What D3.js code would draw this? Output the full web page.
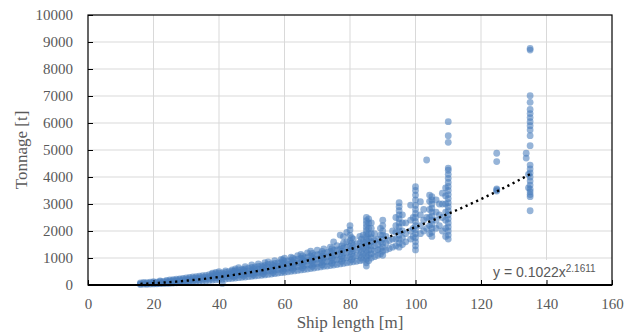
<!DOCTYPE html>
<html>
<head>
<meta charset="utf-8">
<script src="https://cdn.jsdelivr.net/npm/d3@7"></script>
<style>
  body { margin: 0; background: #fff; }
  text { font-family: "Liberation Serif", "Times New Roman", serif; }
</style>
</head>
<body>
<svg id="chart" width="624" height="333"></svg>
<script>
// axis ticks
var xTicks = [0, 20, 40, 60, 80, 100, 120, 140, 160];
var yTicks = [0, 1000, 2000, 3000, 4000, 5000, 6000, 7000, 8000, 9000, 10000];

// main band of smaller ships: [length m, tonnages t]
var bandRows = [
  [16, [20, 45, 80]], [17, [30, 60, 95]], [18, [25, 55, 90]], [19, [35, 70, 110]],
  [20, [40, 65, 90, 125]], [21, [45, 75, 110]], [22, [50, 80, 120, 150]],
  [23, [55, 90, 130]], [24, [60, 95, 135, 170]], [25, [65, 105, 145, 185]],
  [26, [70, 115, 160, 200]], [27, [80, 125, 170, 215]], [28, [90, 135, 185, 230]],
  [29, [95, 145, 195, 245]], [30, [105, 160, 210, 265]], [31, [110, 170, 225, 280]],
  [32, [120, 180, 240, 300]], [33, [130, 190, 250, 310]], [34, [140, 205, 265, 330]],
  [35, [150, 215, 280, 345]], [36, [160, 230, 295, 360]], [37, [170, 245, 310, 380]],
  [38, [180, 255, 330, 400, 440]], [39, [190, 270, 345, 420, 470]],
  [40, [200, 285, 360, 440, 490]], [41, [60, 210, 300, 380, 450]],
  [42, [220, 310, 395, 470, 520]], [43, [235, 325, 410, 490]],
  [44, [245, 340, 430, 510, 560]], [45, [260, 355, 450, 530, 600]],
  [46, [270, 370, 470, 560, 640]], [47, [285, 385, 485, 580]],
  [48, [295, 400, 505, 600, 680]], [49, [310, 420, 525, 620]],
  [50, [320, 430, 540, 650, 740]], [51, [335, 450, 560, 670]],
  [52, [350, 465, 580, 690, 780]], [53, [360, 480, 600, 710]],
  [54, [375, 500, 620, 730, 830]], [55, [390, 515, 640, 760, 860]],
  [56, [405, 530, 660, 780]], [57, [420, 550, 680, 800, 900]],
  [58, [440, 570, 700, 820]], [59, [455, 590, 720, 850, 950]],
  [60, [470, 600, 740, 870, 990]], [61, [490, 620, 760, 890]],
  [62, [505, 640, 780, 910, 1030]], [63, [520, 660, 800, 940]],
  [64, [540, 680, 820, 960, 1090]], [65, [560, 700, 850, 990, 1130]],
  [66, [575, 720, 870, 1010]], [67, [590, 740, 890, 1040, 1190]],
  [68, [610, 760, 910, 1070, 1250]], [69, [630, 780, 940, 1100]],
  [70, [650, 800, 960, 1120, 1290]], [71, [670, 830, 990, 1150]],
  [72, [690, 850, 1010, 1180, 1340]], [73, [700, 870, 1040, 1210]],
  [74, [720, 890, 1070, 1240, 1400]], [75, [740, 920, 1100, 1280, 1600]],
  [76, [760, 940, 1120, 1300, 1460]], [77, [780, 960, 1150, 1330, 1850]],
  [78, [800, 990, 1180, 1370, 1550, 1790]], [79, [820, 1010, 1210, 1400, 1600, 1950]],
  [80, [840, 1040, 1240, 1440, 1640, 1840, 2040, 2200]],
  [81, [860, 1060, 1270, 1480, 1700]], [82, [880, 1090, 1300, 1520]],
  [83, [900, 1110, 1330, 1560, 1800]], [84, [920, 1140, 1360, 1600, 1850]]
];

// extra fill between the band rows: [length m, tonnages t]
var bandFillRows = [
  [44.5, [300, 400, 500]], [47.5, [330, 440, 550]], [50.5, [370, 490, 610]],
  [53.5, [420, 540, 670]], [56.5, [460, 600, 730]], [59.5, [520, 660, 800, 930]],
  [62.5, [580, 720, 860, 990]], [65.5, [640, 790, 930, 1080]],
  [68.5, [690, 850, 1010, 1170]], [71.5, [750, 910, 1080, 1240]],
  [74.5, [810, 990, 1170, 1350]], [77.5, [880, 1060, 1250, 1450]],
  [80.5, [940, 1150, 1350, 1550, 1750]], [83.5, [1000, 1230, 1450, 1700]]
];

// standard-length vessels: [length m, tonnages t]
var columnRows = [
  [85, [700, 820, 940, 1060, 1180, 1300, 1420, 1540, 1660, 1780, 1900, 2020, 2140, 2260, 2380, 2500]],
  [85.7, [900, 1100, 1300, 1500, 1700, 1900, 2100, 2300, 2450]],
  [86.5, [1000, 1150, 1300, 1450, 1600, 1750, 1900, 2100, 2300]],
  [87.5, [1050, 1250, 1450, 1650, 1900]], [88.5, [1100, 1300, 1500, 1700]],
  [89.3, [1150, 1350, 1600, 1850, 2100]],
  [90, [1100, 1250, 1400, 1550, 1700, 1850, 2000, 2200, 2400]],
  [91, [1300, 1550, 1800]], [92, [1350, 1650]], [93, [1400, 1700, 2000]],
  [94, [1450, 1700, 1950, 2200, 2500]],
  [95, [1400, 1550, 1700, 1850, 2000, 2150, 2300, 2450, 2600, 2750, 2900, 3050]],
  [96, [1500, 1750, 2000, 2300, 2600]], [97, [1600, 1900, 2300]],
  [98.5, [1700, 2000, 2400, 2960]], [99.3, [1800, 2100, 2500]],
  [100, [1300, 1450, 1600, 1750, 1900, 2050, 2200, 2350, 2500, 2650, 2800, 2950, 3150, 3330, 3500, 3640]],
  [101.5, [1900, 2200, 2600, 3085]], [102.5, [2000, 2400, 2800]],
  [103.4, [2100, 2500, 4630]], [104.3, [1900, 2200, 2500, 2800, 3100, 3330]],
  [105, [1800, 1950, 2100, 2250, 2400, 2550, 2700, 2850, 3000, 3150, 3270]],
  [106.3, [2100, 2400, 2700, 3150]], [107.3, [2200, 2600, 3000]],
  [108.2, [2000, 2500, 3000, 3400]], [109.2, [1800, 2100, 2400, 2700, 3000, 3300, 3600]],
  [110, [1700, 1850, 2000, 2150, 2300, 2450, 2600, 2750, 2900, 3050, 3200, 3350, 3500, 3650, 3800, 3950, 4100, 4250, 4330, 5285, 5530, 6050]],
  [124.8, [3480, 3520, 3560, 4570, 4880]],
  [133.8, [4700, 4880]], [134.5, [3600, 4100]],
  [135, [2750, 3270, 3350, 3450, 3550, 3700, 3850, 4000, 4150, 4300, 4440, 5160, 5530, 5740, 5900, 6050, 6200, 6350, 6500, 6765, 7010, 8700, 8760]]
];

// fitted power trend y = a * x^b
var trendA = 0.1022, trendB = 2.1611;
var trendFrom = 16, trendTo = 135;

var svg = d3.select("#chart"),
    margin = {top: 15, right: 12, bottom: 48, left: 88},
    width = +svg.attr("width") - margin.left - margin.right,
    height = +svg.attr("height") - margin.top - margin.bottom,
    g = svg.append("g").attr("transform", "translate(" + margin.left + "," + margin.top + ")");

var x = d3.scaleLinear().domain([0, 160]).range([0, width]);
var y = d3.scaleLinear().domain([0, 10000]).range([height, 0]);

var points = bandRows.concat(bandFillRows, columnRows).flatMap(function(r) {
  return r[1].map(function(t) { return {l: r[0], t: t}; });
});

// grid
g.append("g").selectAll("line").data(yTicks.slice(1, -1)).enter().append("line")
  .attr("x1", 0).attr("x2", width)
  .attr("y1", function(d) { return y(d); }).attr("y2", function(d) { return y(d); })
  .attr("stroke", "#d9d9d9").attr("stroke-width", 1);
g.append("g").selectAll("line").data(xTicks.slice(1, -1)).enter().append("line")
  .attr("y1", 0).attr("y2", height)
  .attr("x1", function(d) { return x(d); }).attr("x2", function(d) { return x(d); })
  .attr("stroke", "#d9d9d9").attr("stroke-width", 1);

// scatter
g.append("g").selectAll("circle").data(points).enter().append("circle")
  .attr("cx", function(d) { return x(d.l); })
  .attr("cy", function(d) { return y(d.t); })
  .attr("r", 3.4)
  .attr("fill", "#4a7ebb")
  .attr("fill-opacity", 0.58);

// trend line
var trend = d3.range(trendFrom, trendTo + 0.01, 0.5).map(function(l) { return [l, trendA * Math.pow(l, trendB)]; });
g.append("path")
  .datum(trend)
  .attr("fill", "none")
  .attr("stroke", "#000")
  .attr("stroke-width", 2.4)
  .attr("stroke-dasharray", "2.2 3.6")
  .attr("d", d3.line().x(function(d) { return x(d[0]); }).y(function(d) { return y(d[1]); }));

// equation label
g.append("rect").attr("x", 399).attr("y", 245).attr("width", 118).attr("height", 22).attr("fill", "#fff");
var eq = g.append("text")
  .attr("x", 405).attr("y", 262)
  .style("font-family", "'Liberation Sans', Arial, sans-serif")
  .style("font-size", "14px")
  .attr("fill", "#595959");
eq.append("tspan").text("y = 0.1022x");
eq.append("tspan").attr("dy", -5).style("font-size", "10px").text("2.1611");

// axes
var xAxis = g.append("g")
  .attr("transform", "translate(0," + height + ")")
  .call(d3.axisBottom(x).tickValues(xTicks).tickSize(-5).tickPadding(13).tickFormat(d3.format("d")));
var yAxis = g.append("g")
  .call(d3.axisLeft(y).tickValues(yTicks).tickSize(-5).tickPadding(15).tickFormat(d3.format("d")));
[xAxis, yAxis].forEach(function(a) {
  a.select(".domain").remove();
  a.selectAll("line").attr("stroke", "#000");
  a.selectAll("text")
    .style("font-family", "'Liberation Serif', 'Times New Roman', serif")
    .style("font-size", "15px")
    .attr("fill", "#595959");
});

// frame
g.append("rect").attr("width", width).attr("height", height)
  .attr("fill", "none").attr("stroke", "#000").attr("stroke-width", 1.2);
g.append("line").attr("x1", 0).attr("x2", width).attr("y1", height).attr("y2", height)
  .attr("stroke", "#000").attr("stroke-width", 1.8);

// titles
svg.append("text")
  .attr("x", margin.left + width / 2).attr("y", 328)
  .attr("text-anchor", "middle")
  .style("font-size", "17px").attr("fill", "#595959")
  .text("Ship length [m]");
svg.append("text")
  .attr("transform", "translate(27," + (margin.top + height / 2) + ") rotate(-90)")
  .attr("text-anchor", "middle")
  .style("font-size", "17px").attr("fill", "#595959")
  .text("Tonnage [t]");
</script>
</body>
</html>
